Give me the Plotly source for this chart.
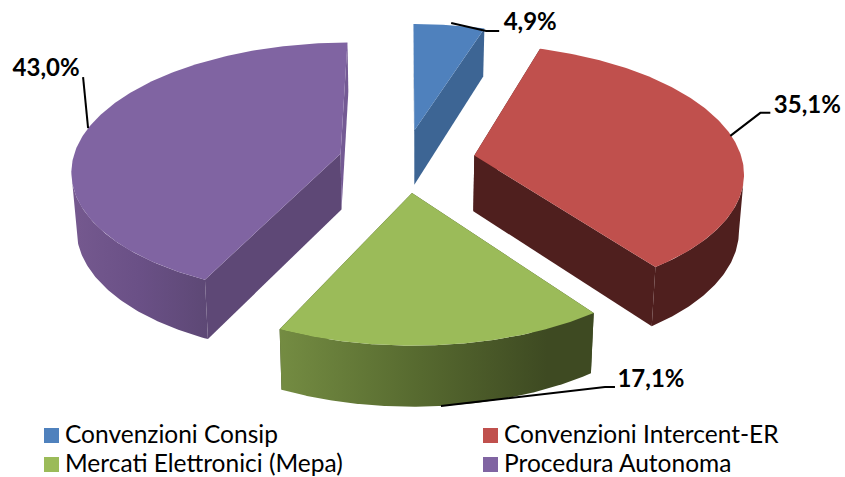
import numpy as np
import plotly.graph_objects as go

# ---- data ----
categories = ["Convenzioni Consip", "Convenzioni Intercent-ER",
              "Mercati Elettronici (Mepa)", "Procedura Autonoma"]
shares = [4.9, 35.1, 17.1, 43.0]
top_colors = ["#4F81BD", "#C0504D", "#9BBB59", "#8064A2"]

# ---- style of the 3-D look ----
wall_colors = [
    [[0, "#3D6594"], [1, "#3D6594"]],
    [[0, "#4F1F1E"], [1, "#4F1F1E"]],
    [[0, "#748C42"], [0.45, "#56692F"], [0.85, "#3E4A22"], [1, "#3E4A22"]],
    [[0, "#75598F"], [0.5, "#6A5086"], [1, "#5D4875"]],
]
cut_colors = ["#3D6594", "#4F1F1E", "#3E4A22", "#5E4876"]
sliver_color = "#745A94"

W, H = 845, 477
CX, CY = 407.5, 160.6
A, B = 268.0, 126.0
K = 0.12
EXPLODE = 0.25
NUDGE_X = [-3, 1, -2, -2]
# label leader lines: elbow offsets and text offsets relative to the slice's anchor
LEADERS = [
    [(35, 8), (48, 8)],
    [(30, -23), (40, -23)],
    [(164, -19), (174, -19)],
    [(-5, -51)],
]
LABEL_OFF = [(79, 1), (77, -29), (210, -25), (-42, -58)]
ANCHOR_FIX = [(-1, -2), (0, 0), (-3, 0), (-3, 1)]


def project(X, Y):
    s = 1 / (1 - K * Y)
    return CX + A * X * s, CY + B * Y * s


def depth(Y):
    return np.where(Y < 0, 56 + 6.5 * Y, 56 + 4 * Y)


def lower(px, py, Y):
    return CX + (px - CX) * 0.985, py + depth(Y)


def poly(fig, xs, ys, **kw):
    fig.add_trace(go.Scatter(x=list(xs), y=list(ys), mode="lines", fill="toself",
                             line=dict(width=0), hoverinfo="skip", showlegend=False, **kw))


fig = go.Figure()
total = sum(shares)
edges = np.cumsum([0] + shares) / total * 2 * np.pi
anchors = {}

for i in [0, 3, 1, 2]:
    t0, t1 = edges[i], edges[i + 1]
    mid = (t0 + t1) / 2
    ox, oy = EXPLODE * np.sin(mid), -EXPLODE * np.cos(mid)
    th = np.linspace(t0, t1, 200)
    Xa, Ya = ox + np.sin(th), oy - np.cos(th)
    n = NUDGE_X[i]
    ax_, ay_ = project(Xa, Ya)
    bx_, by_ = lower(ax_, ay_, Ya)
    ax_, bx_ = ax_ + n, bx_ + n
    apx, apy = project(ox, oy)
    abx, aby = lower(apx, apy, np.array(oy))
    apx, abx = apx + n, abx + n

    # cut walls
    end_col = sliver_color if i == 3 else cut_colors[i]
    poly(fig, [apx, ax_[0], bx_[0], abx], [apy, ay_[0], by_[0], aby], fillcolor=cut_colors[i])
    poly(fig, [apx, ax_[-1], bx_[-1], abx], [apy, ay_[-1], by_[-1], aby], fillcolor=end_col)
    # outer wall: only the part facing the viewer, between the silhouette extremes
    front = np.cos(th) < 0.3
    if front.sum() > 1:
        fx, fy, gx, gy = ax_[front], ay_[front], bx_[front], by_[front]
        a, b = sorted([int(np.argmin(fx)), int(np.argmax(fx))])
        fx, fy, gx, gy = fx[a:b + 1], fy[a:b + 1], gx[a:b + 1], gy[a:b + 1]
        poly(fig, np.r_[fx, gx[::-1]], np.r_[fy, gy[::-1]],
             fillgradient=dict(type="horizontal", colorscale=wall_colors[i],
                               start=float(min(fx.min(), gx.min())), stop=float(max(fx.max(), gx.max()))))
    # top face
    poly(fig, np.r_[apx, ax_], np.r_[apy, ay_], fillcolor=top_colors[i])

    mX, mY = ox + np.sin(mid), oy - np.cos(mid)
    px, py = project(mX, mY)
    if i == 2:  # green leader starts at the lower rim
        px, py = lower(px, py, np.array(mY))
    anchors[i] = (float(px) + ANCHOR_FIX[i][0], float(py) + ANCHOR_FIX[i][1])

# leaders and value labels
for i, share in enumerate(shares):
    x0, y0 = anchors[i]
    lx = [x0] + [x0 + d[0] for d in LEADERS[i]]
    ly = [y0] + [y0 + d[1] for d in LEADERS[i]]
    fig.add_trace(go.Scatter(x=lx, y=ly, mode="lines", line=dict(color="black", width=2),
                             hoverinfo="skip", showlegend=False))
    fig.add_trace(go.Scatter(x=[x0 + LABEL_OFF[i][0]], y=[y0 + LABEL_OFF[i][1]], mode="text",
                             text=[f"{share:.1f}%".replace(".", ",")], textposition="middle center",
                             textfont=dict(family="Lato", size=24, color="black", weight="bold"),
                             hoverinfo="skip", showlegend=False))

# legend, two columns
for i, cat in enumerate(categories):
    col, row = i % 2, i // 2
    lx0 = 51.5 + 439 * col
    ly0 = 435.5 + 29 * row
    fig.add_trace(go.Scatter(x=[lx0], y=[ly0], mode="markers",
                             marker=dict(symbol="square", size=15, color=top_colors[i]),
                             hoverinfo="skip", showlegend=False))
    fig.add_trace(go.Scatter(x=[lx0 + 13.5], y=[ly0 + 1.5], mode="text", text=[cat], textposition="middle right",
                             textfont=dict(family="Lato", size=24.5, color="black"),
                             hoverinfo="skip", showlegend=False))

fig.update_layout(width=W, height=H, margin=dict(l=0, r=0, t=0, b=0),
                  paper_bgcolor="white", plot_bgcolor="white",
                  xaxis=dict(range=[0, W], visible=False, fixedrange=True),
                  yaxis=dict(range=[H, 0], visible=False, fixedrange=True))
fig.write_html("out.html", config={"displayModeBar": False},
               post_script="document.body.style.margin='0';document.body.style.overflow='hidden';")
